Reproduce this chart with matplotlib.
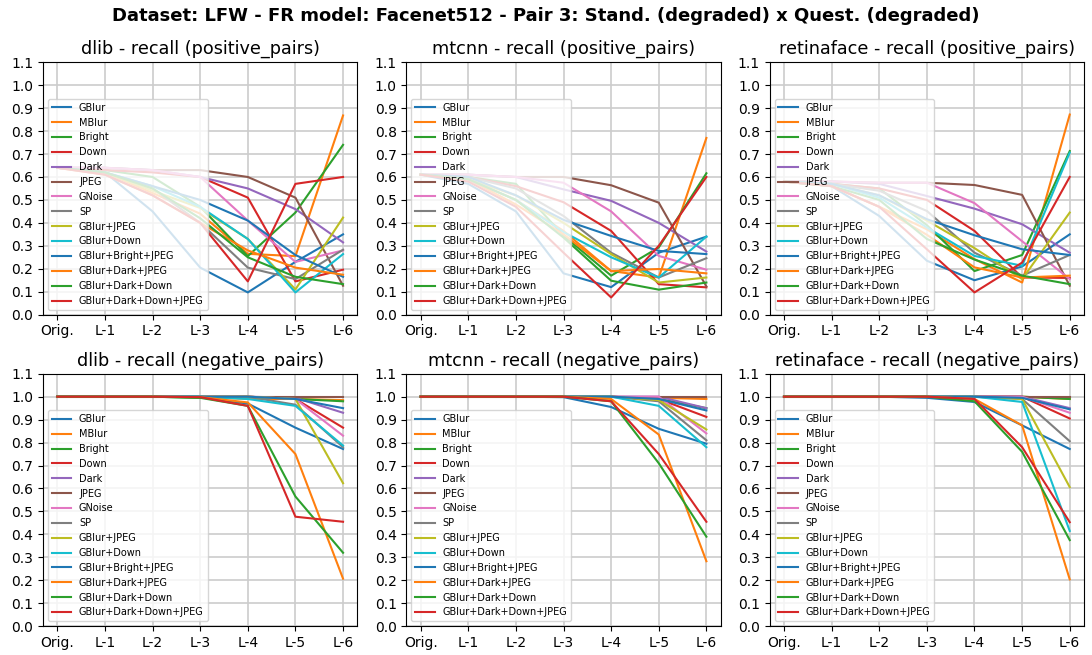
import matplotlib
matplotlib.use("Agg")
import matplotlib.pyplot as plt
import numpy as np

levels = ["Orig.", "L-1", "L-2", "L-3", "L-4", "L-5", "L-6"]
degradations = ["GBlur", "MBlur", "Bright", "Down", "Dark", "JPEG", "GNoise", "SP",
                "GBlur+JPEG", "GBlur+Down", "GBlur+Bright+JPEG", "GBlur+Dark+JPEG",
                "GBlur+Dark+Down", "GBlur+Dark+Down+JPEG"]
detectors = ["dlib", "mtcnn", "retinaface"]

# recall of positive pairs, one row per degradation (same order as above)
dlib_pos = [
    [0.64, 0.62, 0.45, 0.205, 0.097, 0.23, 0.35],
    [0.64, 0.62, 0.53, 0.44, 0.265, 0.255, 0.868],
    [0.64, 0.63, 0.60, 0.47, 0.255, 0.445, 0.74],
    [0.64, 0.63, 0.62, 0.60, 0.51, 0.145, 0.196],
    [0.64, 0.64, 0.63, 0.60, 0.55, 0.46, 0.315],
    [0.64, 0.64, 0.63, 0.63, 0.60, 0.51, 0.126],
    [0.64, 0.64, 0.63, 0.60, 0.41, 0.23, 0.28],
    [0.64, 0.62, 0.55, 0.40, 0.205, 0.155, 0.283],
    [0.64, 0.62, 0.54, 0.465, 0.33, 0.11, 0.423],
    [0.64, 0.62, 0.56, 0.47, 0.33, 0.097, 0.264],
    [0.64, 0.62, 0.56, 0.50, 0.41, 0.26, 0.165],
    [0.64, 0.61, 0.52, 0.40, 0.28, 0.205, 0.174],
    [0.64, 0.62, 0.55, 0.42, 0.25, 0.165, 0.133],
    [0.64, 0.61, 0.52, 0.40, 0.145, 0.57, 0.60],
]
mtcnn_pos = [
    [0.61, 0.57, 0.45, 0.18, 0.12, 0.27, 0.34],
    [0.61, 0.59, 0.50, 0.365, 0.19, 0.162, 0.77],
    [0.61, 0.60, 0.57, 0.345, 0.17, 0.293, 0.616],
    [0.61, 0.60, 0.56, 0.49, 0.365, 0.133, 0.119],
    [0.61, 0.61, 0.60, 0.546, 0.496, 0.40, 0.275],
    [0.61, 0.61, 0.60, 0.60, 0.564, 0.488, 0.123],
    [0.61, 0.61, 0.60, 0.575, 0.45, 0.256, 0.196],
    [0.61, 0.60, 0.55, 0.43, 0.27, 0.162, 0.246],
    [0.61, 0.59, 0.52, 0.40, 0.264, 0.14, 0.162],
    [0.61, 0.59, 0.50, 0.36, 0.25, 0.162, 0.34],
    [0.61, 0.60, 0.52, 0.413, 0.343, 0.278, 0.264],
    [0.61, 0.59, 0.48, 0.35, 0.19, 0.199, 0.18],
    [0.61, 0.59, 0.50, 0.336, 0.148, 0.109, 0.14],
    [0.61, 0.58, 0.47, 0.27, 0.075, 0.30, 0.60],
]
retina_pos = [
    [0.58, 0.56, 0.43, 0.235, 0.15, 0.21, 0.35],
    [0.58, 0.56, 0.47, 0.372, 0.242, 0.14, 0.872],
    [0.58, 0.57, 0.55, 0.39, 0.19, 0.26, 0.713],
    [0.58, 0.57, 0.55, 0.50, 0.365, 0.162, 0.16],
    [0.58, 0.58, 0.57, 0.517, 0.462, 0.394, 0.27],
    [0.58, 0.58, 0.575, 0.575, 0.565, 0.522, 0.126],
    [0.58, 0.58, 0.575, 0.575, 0.486, 0.32, 0.155],
    [0.58, 0.57, 0.54, 0.452, 0.27, 0.17, 0.26],
    [0.58, 0.57, 0.52, 0.41, 0.29, 0.155, 0.445],
    [0.58, 0.57, 0.51, 0.38, 0.256, 0.213, 0.706],
    [0.58, 0.57, 0.52, 0.416, 0.346, 0.285, 0.26],
    [0.58, 0.56, 0.47, 0.348, 0.206, 0.162, 0.17],
    [0.58, 0.56, 0.50, 0.33, 0.24, 0.17, 0.133],
    [0.58, 0.56, 0.47, 0.285, 0.097, 0.227, 0.60],
]

# recall of negative pairs
dlib_neg = [
    [1.0, 1.0, 1.0, 0.998, 0.97, 0.865, 0.772],
    [1.0, 1.0, 1.0, 1.0, 0.99, 0.99, 0.985],
    [1.0, 1.0, 1.0, 0.995, 1.0, 0.99, 0.98],
    [1.0, 1.0, 1.0, 1.0, 1.0, 0.99, 0.865],
    [1.0, 1.0, 1.0, 1.0, 1.0, 0.995, 0.93],
    [1.0, 1.0, 1.0, 1.0, 1.0, 1.0, 1.0],
    [1.0, 1.0, 1.0, 1.0, 1.0, 0.99, 0.83],
    [1.0, 1.0, 1.0, 1.0, 1.0, 0.965, 0.78],
    [1.0, 1.0, 1.0, 1.0, 1.0, 0.99, 0.623],
    [1.0, 1.0, 1.0, 1.0, 0.99, 0.96, 0.787],
    [1.0, 1.0, 1.0, 1.0, 1.0, 0.99, 0.95],
    [1.0, 1.0, 1.0, 0.998, 0.975, 0.75, 0.207],
    [1.0, 1.0, 1.0, 0.995, 0.96, 0.565, 0.32],
    [1.0, 1.0, 1.0, 0.998, 0.96, 0.477, 0.455],
]
mtcnn_neg = [
    [1.0, 1.0, 1.0, 0.998, 0.955, 0.86, 0.795],
    [1.0, 1.0, 1.0, 1.0, 1.0, 0.995, 0.99],
    [1.0, 1.0, 1.0, 1.0, 1.0, 0.99, 0.95],
    [1.0, 1.0, 1.0, 1.0, 1.0, 0.99, 0.912],
    [1.0, 1.0, 1.0, 1.0, 1.0, 1.0, 0.95],
    [1.0, 1.0, 1.0, 1.0, 1.0, 1.0, 1.0],
    [1.0, 1.0, 1.0, 1.0, 1.0, 1.0, 0.84],
    [1.0, 1.0, 1.0, 1.0, 1.0, 0.98, 0.81],
    [1.0, 1.0, 1.0, 1.0, 1.0, 0.985, 0.857],
    [1.0, 1.0, 1.0, 1.0, 1.0, 0.96, 0.78],
    [1.0, 1.0, 1.0, 1.0, 1.0, 0.99, 0.94],
    [1.0, 1.0, 1.0, 1.0, 0.99, 0.835, 0.283],
    [1.0, 1.0, 1.0, 1.0, 0.98, 0.71, 0.39],
    [1.0, 1.0, 1.0, 1.0, 0.98, 0.75, 0.455],
]
retina_neg = [
    [1.0, 1.0, 1.0, 0.995, 0.977, 0.875, 0.772],
    [1.0, 1.0, 1.0, 1.0, 1.0, 1.0, 0.99],
    [1.0, 1.0, 1.0, 1.0, 1.0, 1.0, 0.99],
    [1.0, 1.0, 1.0, 1.0, 1.0, 1.0, 0.905],
    [1.0, 1.0, 1.0, 1.0, 1.0, 1.0, 0.95],
    [1.0, 1.0, 1.0, 1.0, 1.0, 1.0, 1.0],
    [1.0, 1.0, 1.0, 1.0, 1.0, 1.0, 0.93],
    [1.0, 1.0, 1.0, 1.0, 1.0, 0.99, 0.806],
    [1.0, 1.0, 1.0, 1.0, 1.0, 0.99, 0.606],
    [1.0, 1.0, 1.0, 1.0, 1.0, 0.977, 0.415],
    [1.0, 1.0, 1.0, 1.0, 1.0, 0.995, 0.945],
    [1.0, 1.0, 1.0, 1.0, 0.99, 0.875, 0.204],
    [1.0, 1.0, 1.0, 1.0, 0.98, 0.76, 0.375],
    [1.0, 1.0, 1.0, 1.0, 0.99, 0.78, 0.453],
]

pos_data = [dlib_pos, mtcnn_pos, retina_pos]
neg_data = [dlib_neg, mtcnn_neg, retina_neg]

fig, axs = plt.subplots(2, 3, figsize=(10.92, 6.55), dpi=100)
fig.subplots_adjust(left=0.0394, right=0.9927, top=0.905, bottom=0.044,
                    wspace=0.156, hspace=0.234)
fig.suptitle("Dataset: LFW - FR model: Facenet512 - Pair 3: Stand. (degraded) x Quest. (degraded)",
             fontsize=13, fontweight='bold', y=0.99)

x = np.arange(len(levels))
for row, (data, kind) in enumerate([(pos_data, "positive_pairs"), (neg_data, "negative_pairs")]):
    for col, det in enumerate(detectors):
        ax = axs[row, col]
        for name, vals in zip(degradations, data[col]):
            ax.plot(x, vals, label=name, linewidth=1.5)
        ax.set_title(det + " - recall (" + kind + ")", fontsize=12.7)
        ax.set_xticks(x)
        ax.set_xticklabels(levels)
        ax.set_ylim(0, 1.1)
        ax.set_yticks(np.round(np.arange(0, 1.11, 0.1), 1))
        ax.grid(True, color='#cccccc', linewidth=1.2)
        ax.legend(loc='lower left', fontsize=7)

plt.savefig("out.png", dpi=100)
